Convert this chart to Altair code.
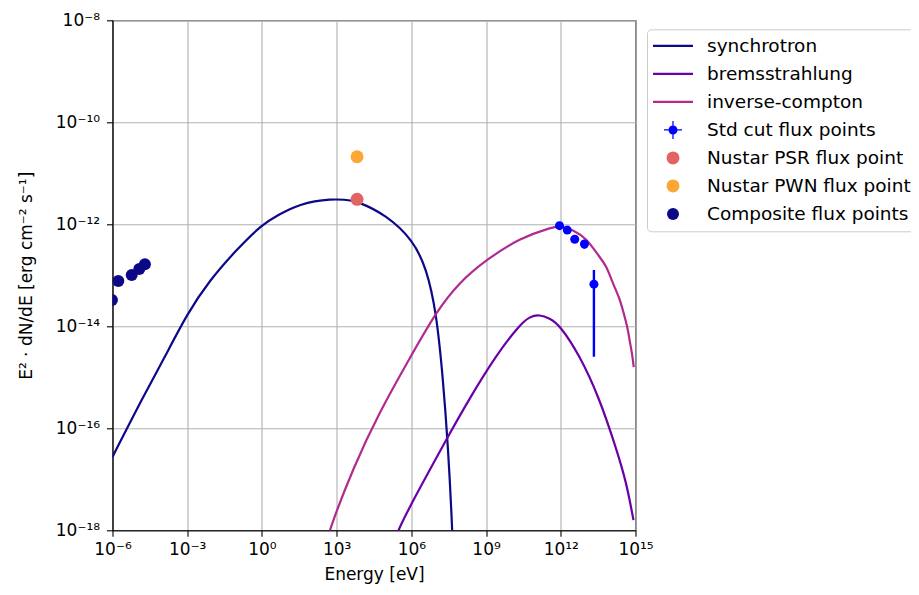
import altair as alt
import pandas as pd

FONT = "DejaVu Sans"

# ---- model curves ----
sync_e = [1e-6, 1.7e-5, 1.1e-4, 1e-3, 8.1e-3, 9.5e-2, 1.0, 5.2, 13.2, 33, 132, 525, 2.09e3, 6.6e3,
          1e5, 1.17e6, 4e6, 1e7, 1.86e7, 2.95e7, 4.47e7, 5.6e7]
sync_f = [2.75e-17, 4.17e-16, 2.19e-15, 1.78e-14, 8.1e-14, 3.16e-13, 1e-12, 1.58e-12, 2.0e-12, 2.39e-12,
          2.86e-12, 3.09e-12, 3.06e-12, 2.86e-12, 1.51e-12, 4.9e-13, 1.38e-13, 1.95e-14, 9.5e-16, 4.7e-17,
          1e-18, 3e-20]

brem_e = [1.58e5, 2.75e5, 2.14e6, 2.95e7, 2.19e8, 2.57e9, 2.24e10, 5.6e10, 1.41e11, 3.55e11, 8.9e11,
          5.6e12, 3.55e13, 1.66e14, 4.27e14, 8.3e14]
brem_f = [4e-19, 1e-18, 6.6e-18, 6.9e-17, 3.9e-16, 2.75e-15, 1.07e-14, 1.55e-14, 1.7e-14, 1.44e-14, 1.07e-14,
          2.75e-15, 3.9e-16, 4.1e-17, 8.9e-18, 1.58e-18]

ic_e = [316, 501, 4.57e3, 5.37e4, 8.5e5, 1e7, 8.7e7, 1e9, 2.24e10, 4.8e11, 1e12, 3.0e12, 1.05e13,
        3.55e13, 6.6e13, 1.23e14, 2.29e14, 3.09e14, 4.9e14, 5.75e14, 7.4e14, 8.5e14]
ic_f = [4e-19, 1e-18, 1.66e-17, 2.14e-16, 2.34e-15, 1.95e-14, 7.4e-14, 2e-13, 5.37e-13, 8.9e-13, 9.3e-13,
        7.8e-13, 5.37e-13, 2.29e-13, 1.58e-13, 6.9e-14, 3.55e-14, 2.09e-14, 9.1e-15, 5.4e-15, 2.8e-15,
        1.58e-15]

# ---- flux points ----
std_e = [8.9e11, 1.82e12, 3.63e12, 8.9e12, 2.14e13]
std_f = [9.4e-13, 7.7e-13, 5.1e-13, 4.1e-13, 6.7e-14]
std_lo = [8.9e-13, 7.2e-13, 4.7e-13, 3.3e-13, 2.54e-15]
std_hi = [9.9e-13, 8.2e-13, 5.5e-13, 4.6e-13, 1.27e-13]

psr_e = [6.6e3]
psr_f = [3.09e-12]
pwn_e = [6.6e3]
pwn_f = [2.11e-11]

comp_e = [9.5e-7, 1.71e-6, 5.9e-6, 1.19e-5, 2.0e-5]
comp_f = [3.28e-14, 7.7e-14, 1.01e-13, 1.33e-13, 1.64e-13]

# ---- legend / styling lists ----
line_names = ["synchrotron", "bremsstrahlung", "inverse-compton"]
line_colors = ["#0d0887", "#6a00a8", "#b12a90"]
series_names = ["synchrotron", "bremsstrahlung", "inverse-compton", "Std cut flux points",
                "Nustar PSR flux point", "Nustar PWN flux point", "Composite flux points"]
series_colors = ["#0d0887", "#6a00a8", "#b12a90", "#0000ff", "#e16462", "#fca636", "#0d0887"]
LINE_PATH = "M-1,-0.055H1V0.055H-1Z"
CROSS_PATH = ("M-1,-0.07H1V0.07H-1Z M-0.07,-1H0.07V1H-0.07Z "
              "M0.5,0A0.5,0.5,0,1,1,-0.5,0A0.5,0.5,0,1,1,0.5,0Z")
series_shapes = [LINE_PATH, LINE_PATH, LINE_PATH, CROSS_PATH, "circle", "circle", "circle"]
series_sizes = [1600, 1600, 1600, 324, 169, 169, 144]

x_exps = [-6, -3, 0, 3, 6, 9, 12, 15]
x_ticks = [1e-6, 1e-3, 1e0, 1e3, 1e6, 1e9, 1e12, 1e15]
x_tick_labels = ["10⁻⁶", "10⁻³", "10⁰", "10³", "10⁶", "10⁹", "10¹²", "10¹⁵"]
y_exps = [-18, -16, -14, -12, -10, -8]
y_ticks = [1e-18, 1e-16, 1e-14, 1e-12, 1e-10, 1e-8]
y_tick_labels = ["10⁻¹⁸", "10⁻¹⁶", "10⁻¹⁴", "10⁻¹²", "10⁻¹⁰", "10⁻⁸"]


def label_expr(exps, labels):
    parts = [f"round(log(datum.value)/LN10) == {e} ? '{l}'" for e, l in zip(exps, labels)]
    return " : ".join(parts) + " : ''"


lines_df = pd.concat([
    pd.DataFrame({"E": sync_e, "F": sync_f, "series": "synchrotron"}),
    pd.DataFrame({"E": brem_e, "F": brem_f, "series": "bremsstrahlung"}),
    pd.DataFrame({"E": ic_e, "F": ic_f, "series": "inverse-compton"}),
], ignore_index=True)

std_df = pd.DataFrame({"E": std_e, "F": std_f, "lo": std_lo, "hi": std_hi})

pts_df = pd.concat([
    pd.DataFrame({"E": comp_e, "F": comp_f, "series": "Composite flux points"}),
    pd.DataFrame({"E": psr_e, "F": psr_f, "series": "Nustar PSR flux point"}),
    pd.DataFrame({"E": pwn_e, "F": pwn_f, "series": "Nustar PWN flux point"}),
], ignore_index=True)

xscale = alt.Scale(type="log", domain=[1e-6, 1e15], nice=False)
yscale = alt.Scale(type="log", domain=[1e-18, 1e-8], nice=False)

xaxis = alt.Axis(values=x_ticks, labelExpr=label_expr(x_exps, x_tick_labels), title="Energy [eV]",
                 grid=True, titlePadding=9, labelPadding=5)
yaxis = alt.Axis(values=y_ticks, labelExpr=label_expr(y_exps, y_tick_labels),
                 title="E² · dN/dE [erg cm⁻² s⁻¹]", grid=True, titlePadding=20, labelPadding=7)

X = alt.X("E:Q", scale=xscale, axis=xaxis)
Y = alt.Y("F:Q", scale=yscale, axis=yaxis)

lines = alt.Chart(lines_df).mark_line(clip=True, strokeWidth=2.2, interpolate="basis").encode(
    x=X, y=Y,
    stroke=alt.Stroke("series:N", scale=alt.Scale(domain=line_names, range=line_colors), legend=None),
)

std_err = alt.Chart(std_df).mark_rule(clip=True, strokeWidth=2.4, color="#0000ff").encode(
    x=alt.X("E:Q", scale=xscale), y=alt.Y("lo:Q", scale=yscale), y2="hi:Q"
)
std_pts = alt.Chart(std_df).mark_circle(clip=True, size=81, opacity=1, color="#0000ff").encode(
    x=alt.X("E:Q", scale=xscale), y=alt.Y("F:Q", scale=yscale)
)

legend = alt.Legend(
    title=None, orient="none", legendX=534.5, legendY=9, direction="vertical",
    labelFont=FONT, labelFontSize=18.5, labelColor="black", labelLimit=400,
    clipHeight=27.3, rowPadding=0, padding=3, symbolOffset=3, labelOffset=14,
    symbolStrokeWidth=0, strokeColor="#cccccc", cornerRadius=4, fillColor="white",
)

pts = alt.Chart(pts_df).mark_point(filled=True, opacity=1, clip=True, strokeWidth=0).encode(
    x=alt.X("E:Q", scale=xscale), y=alt.Y("F:Q", scale=yscale),
    fill=alt.Fill("series:N", scale=alt.Scale(domain=series_names, range=series_colors), legend=legend),
    shape=alt.Shape("series:N", scale=alt.Scale(domain=series_names, range=series_shapes), legend=legend),
    size=alt.Size("series:N", scale=alt.Scale(type="ordinal", domain=series_names, range=series_sizes),
                  legend=legend),
)

chart = alt.layer(lines, std_err, std_pts, pts).properties(
    width=523, height=510,
    autosize=alt.AutoSizeParams(type="none"),
    padding={"left": 104.5, "top": 12.3, "right": 275.5, "bottom": 54},
).configure_view(
    stroke="black", strokeWidth=1.1
).configure_axis(
    labelFont=FONT, labelFontSize=17, labelColor="black",
    titleFont=FONT, titleFontSize=17, titleFontWeight="normal", titleColor="black",
    domainColor="black", domainWidth=1.1, tickColor="black", tickWidth=1.1, tickSize=6,
    gridColor="#b0b0b0", gridWidth=1.1, labelFlush=False, labelOverlap=False,
)

chart.save("out.html", embed_options={"renderer": "svg", "actions": False})
